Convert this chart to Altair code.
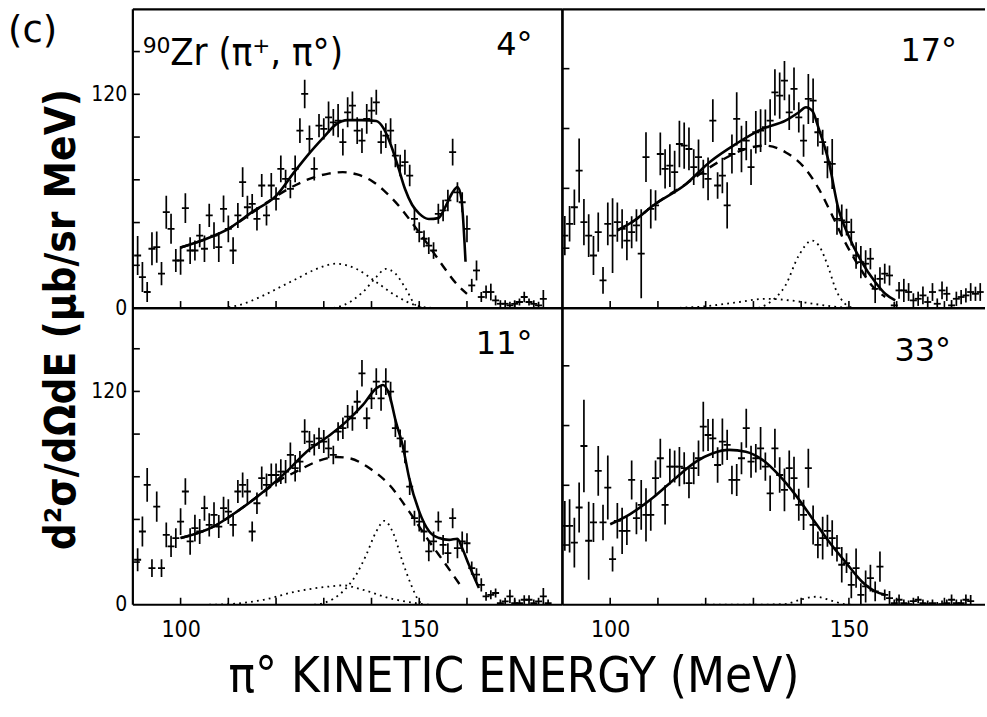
import altair as alt
import pandas as pd

LAB = "DejaVu Sans"
CON = "DejaVu Sans Condensed"

# ---------------- data ----------------
# 4 degrees (top-left), points at 1 MeV steps starting at 91 MeV
e4_start = 91.0
v4 = [29.5, 17.4, 9.0, 33.3, 34.2, 19.3, 53.8, 44.5, 26.7, 26.7,
      56.1, 32.3, 32.3, 40.7, 33.3, 52.0, 40.7, 34.2, 55.7, 44.5,
      32.3, 52.0, 70.7, 56.6, 58.5, 50.1, 68.8, 52.0, 68.8, 61.3,
      78.1, 72.5, 66.9, 78.1, 99.6, 120.2, 95.0, 78.1, 102.4, 100.6,
      107.1, 104.3, 105.2, 93.1, 109.9, 113.6, 99.6, 94.0, 106.2, 110.8,
      115.5, 93.1, 96.8, 99.6, 85.6, 80.0, 81.9, 74.4, 50.1, 42.6,
      38.9, 35.1, 32.3, 52.9, 54.8, 60.4, 87.5, 65.0, 59.4, 44.5,
      12.7, 21.1, 6.2, 9.0, 9.0, 4.3, 2.4, 2.4, 1.5, 2.4,
      3.4, 6.2, 3.4, 2.4, 1.5, 5.2]
err4 = [11, 8.4, 5.6, 9.3, 8.8, 6.5, 9.3, 8.4, 6.5, 8,
        8.4, 7.5, 5.6, 6.5, 7.5, 6.5, 7.5, 8.4, 7.5, 7.5,
        7.5, 7, 8.4, 6.5, 5.6, 6.5, 6.5, 5.6, 7, 6.5,
        7.5, 5.2, 5.2, 7.5, 7, 8, 7.5, 6.5, 6.5, 6,
        8.8, 7.5, 9.3, 7.5, 8.4, 8, 7.5, 7, 8.4, 7.5,
        7, 6.5, 7, 7, 6.5, 6, 7, 6, 6.5, 5.6,
        4.7, 4.7, 4.7, 5.6, 6, 6, 7.5, 5.6, 5.6, 7.5,
        3.7, 5.6, 2.8, 3.7, 4.7, 2.8, 2, 2, 2, 2,
        2, 3, 2, 2, 2, 5]

# 17 degrees (top-right)
e17_start = 90.5
v17 = [40.7, 47.3, 56.6, 77.2, 48.2, 40.7, 29.5, 42.6, 15.5, 47.3,
       40.7, 48.2, 44.5, 37.9, 42.6, 46.4, 30.5, 84.7, 55.7, 57.6,
       86.5, 78.1, 80.0, 76.3, 92.1, 91.2, 89.3, 79.1, 84.7, 75.3,
       72.5, 105.2, 68.8, 74.4, 57.6, 86.5, 106.2, 89.3, 94.0, 79.1,
       98.7, 99.6, 101.5, 105.2, 121.1, 119.3, 127.7, 109.9, 123.0, 107.1,
       94.0, 117.4, 116.4, 98.7, 93.1, 81.9, 80.9, 50.1, 49.2, 48.2,
       42.6, 29.5, 25.8, 24.9, 27.7, 10.8, 16.4, 19.3, 18.3, 1.5,
       9.9, 9.9, 9.0, 4.3, 5.2, 7.1, 3.4, 9.0, 2.4, 9.9,
       8.0, 1.5, 5.2, 6.2, 7.1, 9.0, 8.0, 9.0]
err17 = [11, 10, 10, 18, 13, 12, 11, 11, 7.5, 12,
         21, 11, 11, 11, 9, 9, 25, 14, 11, 8.5,
         12, 11, 12, 12, 13, 13, 12, 10, 10, 8,
         12, 12, 7.5, 10, 13, 11, 15, 13, 11, 10,
         12, 12, 10, 12, 13, 13, 11, 10, 12, 8.5,
         9, 14, 12.5, 8, 7, 9, 14, 9, 9, 7.5,
         7.5, 7.5, 9, 7.5, 6, 8, 6.5, 5.6, 5.6, 2,
         4.7, 6.5, 5, 4, 4, 5, 3, 5, 3, 5,
         4, 3, 4, 4, 4, 5, 4, 5]

# 11 degrees (bottom-left)
e11_start = 91.0
v11 = [25.3, 41.2, 67.4, 20.6, 55.2, 20.6, 39.3, 32.8, 37.5, 46.8,
       63.7, 35.6, 43.1, 41.2, 54.3, 44.9, 50.6, 44.0, 54.3, 52.4,
       44.9, 63.7, 67.4, 63.7, 41.2, 57.1, 71.2, 67.4, 73.0, 73.0,
       74.9, 74.9, 84.3, 76.8, 80.5, 97.4, 91.8, 89.9, 93.6, 91.8,
       88.0, 84.3, 97.4, 99.3, 105.8, 104.9, 114.2, 130.2, 104.9, 116.1,
       125.5, 116.1, 125.5, 119.9, 99.3, 93.6, 86.1, 66.5, 48.7, 46.8,
       41.2, 30.0, 35.6, 46.8, 33.7, 29.0, 48.7, 31.8, 35.6, 34.6,
       20.6, 16.9, 11.2, 4.7, 5.6, 6.6, 0.9, 1.9, 4.7, 0.9,
       0.9, 2.8, 2.8, 0.9, 1.9, 4.7, 0.9]
err11 = [6.5, 8.5, 9.5, 5, 8.5, 5, 7, 6, 5.6, 7.5,
         7.5, 7.5, 7.5, 7, 7, 6.5, 7, 6.5, 6.5, 7,
         6.5, 6.5, 7, 7, 5.6, 6, 6.5, 6.5, 6.5, 6.5,
         7, 6.5, 7, 7.5, 6, 7, 6, 6, 6, 6.5,
         5.6, 5.2, 5.2, 6, 6.5, 7, 6.5, 7.5, 6, 6,
         7.5, 7, 7.5, 5.6, 5, 5, 6.5, 4.7, 4.2, 5.6,
         5.6, 5.6, 5.6, 5.6, 5.6, 5.6, 5.6, 5.6, 5.6, 5.6,
         3.7, 3.7, 3.7, 2.5, 2.5, 2.5, 2, 2, 3.7, 2,
         2, 2.5, 2.5, 2, 2, 4.7, 2]

# 33 degrees (bottom-right)
e33_start = 90.5
v33 = [44.4, 44.4, 35.0, 54.7, 89.3, 36.0, 46.3, 75.3, 46.3, 65.9,
       25.7, 47.2, 41.6, 41.6, 70.2, 48.7, 56.2, 50.6, 50.6, 71.2,
       82.4, 56.2, 77.7, 77.7, 77.7, 76.8, 68.4, 76.8, 82.4, 100.2,
       95.5, 93.6, 78.6, 91.8, 89.9, 70.2, 70.2, 82.4, 99.3, 80.5,
       82.4, 88.0, 77.7, 62.7, 88.0, 73.0, 64.6, 76.8, 71.2, 56.2,
       50.6, 76.8, 44.9, 33.7, 37.5, 41.6, 37.5, 31.8, 22.5, 23.4,
       11.2, 20.6, 5.6, 10.3, 15.0, 7.5, 21.5, 5.6, 3.7, 0.9,
       2.8, 0.9, 0.4, 2.0, 2.8, 0.9, 0.4, 0.9, 0.0, 0.4,
       0.9, 2.8, 0.9, 0.9, 2.8, 2.0]
err33 = [14, 15, 14, 14, 26, 22, 11, 14, 10, 18,
         7, 10, 13, 8, 11, 9, 14, 15, 9, 10,
         11, 11, 10, 9, 11, 9, 8.5, 9, 10, 14,
         9, 11, 10, 13, 8.5, 8, 9, 9, 11, 9,
         8, 12, 8, 10, 11, 10, 12, 10, 12, 9,
         8.5, 11, 11, 7.5, 12, 9, 10, 7.5, 10, 5.6,
         7.5, 11, 6.5, 9, 7.5, 5.6, 8.5, 3, 4, 2,
         3, 2, 2, 2, 2, 2, 2, 2, 1.5, 2,
         2, 3, 2, 2, 3, 3.5]

# fitted curves
s4_E = [100, 105, 110, 115, 120, 124, 127, 130, 132.5, 135, 138, 141, 142.5, 144, 145.5,
        147, 148.5, 150, 152, 154, 155.5, 157, 158, 158.8, 159.7]
s4_v = [34, 38.5, 44.5, 54, 63, 77, 87, 96, 103, 105.5, 105.5, 105, 101, 92, 80,
        67, 58, 53, 50, 50.5, 57, 65, 68, 62, 26]
d4_E = [100, 105, 110, 115, 119, 123, 127, 131, 134, 137, 140, 143, 146, 149, 152, 155, 158, 160]
d4_v = [34, 38.5, 44.5, 53.5, 61, 67.5, 72.5, 75.5, 76.3, 75, 71.5, 65, 56.5, 46, 35, 23.5, 13, 8]
p4a_E = [100, 108, 112, 117.4, 121, 124.3, 128.5, 132.6, 136.8, 141, 145, 149.3, 153]
p4a_v = [0, 0, 1.5, 7.1, 12, 16.4, 22, 24.9, 22, 14.6, 7.1, 1.5, 0]
p4b_E = [132, 134, 138.2, 141, 143, 145, 147.2, 149.3, 151]
p4b_v = [0, 1.5, 9, 17.4, 22, 19.3, 10.8, 1.5, 0]

s17_E = [101.5, 105, 109, 115.9, 120.8, 126.3, 131.9, 136.7, 139.5, 141, 142.3, 143.7,
         145.8, 147.8, 149.9, 152.7, 155.5, 157.6, 159.7]
s17_v = [43.6, 49, 57.6, 69.7, 81.9, 92.1, 100.6, 105.2, 109.9, 112.7, 110.8, 100.6,
         81.9, 55.7, 40.7, 25.8, 14.6, 8.0, 4.3]
d17_E = [101.5, 105, 109, 115.9, 120, 124, 128, 132.5, 136.7, 140.9, 143.7, 146.5, 149.2, 152, 154.8, 157.6]
d17_v = [43.6, 49, 57.6, 69.7, 77.5, 84, 89, 91.2, 87.5, 78.1, 66.9, 52, 37, 23.9, 12.7, 6.2]
p17a_E = [112, 116, 120, 126, 132.6, 138, 143, 149, 152]
p17a_v = [0, 0.3, 1, 3, 5.2, 4.2, 2.2, 0.3, 0]
p17b_E = [131, 134, 136.7, 139.5, 142.3, 143.7, 145.8, 147.2, 149.2, 151]
p17b_v = [0, 4.3, 12.7, 29.5, 37.9, 35.1, 22, 10.8, 2.4, 0]

s11_E = [100, 106.9, 111.8, 117.4, 122.2, 126.4, 131.3, 134.7, 138.2, 141, 142.4, 143.75,
         145.1, 146.5, 147.9, 150, 152.1, 154.2, 156.25, 158, 159, 160.4, 162.5]
s11_v = [37.5, 44, 52.4, 63.7, 74.9, 86.1, 95.5, 103, 112.4, 121.7, 123.6, 118,
         103, 89.9, 71.2, 52.4, 41.2, 37.5, 36.5, 37.1, 31.8, 22.5, 9.4]
d11_E = [100, 106.9, 111.8, 117.4, 121, 124.3, 128.5, 132.6, 135.4, 139.6, 143.75, 147.9, 152.1, 155.6, 159]
d11_v = [37.5, 44, 52.4, 63.5, 70.5, 75, 80.5, 83.1, 82.4, 76.8, 67.4, 52.4, 35.6, 22.5, 9.4]
p11a_E = [106, 110.4, 117.4, 124.3, 131.3, 134, 138.2, 143.75, 149.3, 152]
p11a_v = [0, 0.4, 2.8, 7.5, 10.3, 10.9, 8.4, 3.7, 0.9, 0]
p11b_E = [128, 129.9, 134, 136.8, 138.9, 141, 142.7, 144.4, 146.5, 148.3, 150, 151]
p11b_v = [0, 0.9, 7.5, 16.9, 28.1, 41.2, 47.2, 41.2, 24.3, 11.2, 1.9, 0]

s33_E = [100, 104.1, 109, 113.8, 118, 121.5, 124.9, 128.4, 131.9, 135.3, 138.8, 142.3,
         145.8, 149.2, 152.7, 155.5, 157.6]
s33_v = [45.3, 50.9, 60.3, 71.5, 80.5, 85.2, 87.1, 86.1, 81.5, 73, 61.8, 48.7,
         35.6, 24.3, 13.1, 7.5, 5.6]
p33_E = [119, 130, 136.7, 139.5, 143, 146.5, 149.2, 151]
p33_v = [0, 0, 0.4, 2.6, 4.5, 2.2, 0.3, 0]

x_tick_values = [100, 110, 120, 130, 140, 150, 160, 170]
y_ticks_left = [24, 48, 72, 96, 120, 144]
y_ticks_right = [33.6, 67.2, 100.8, 134.4]
y_labels = [0, 120]
x_labels = [100, 150]

# ---------------- helpers ----------------
W_L, W_R = 430, 423
H_T, H_B = 299, 297


def pts_df(start, vals, errs):
    return pd.DataFrame({
        "E": [start + i for i in range(len(vals))],
        "v": vals,
        "lo": [v - e for v, e in zip(vals, errs)],
        "hi": [v + e for v, e in zip(vals, errs)],
    })


def line_df(E, v):
    return pd.DataFrame({"E": E, "v": v})


one = pd.DataFrame({"k": [0]})


def panel(pts, solids, dasheds, dots, w, h, xdom, ydom, yt, texts,
          xaxis=None, yaxis=None, right_frame=True):
    xs = alt.Scale(domain=xdom, nice=False, zero=False)
    ys = alt.Scale(domain=ydom, nice=False, zero=False)

    def X(f):
        return alt.X(f, type="quantitative", scale=xs, axis=xaxis)

    def Y(f):
        return alt.Y(f, type="quantitative", scale=ys, axis=yaxis)

    layers = []
    layers.append(alt.Chart(pts).mark_rule(color="black", strokeWidth=1.7, clip=True)
                  .encode(x=X("E"), y=Y("lo"), y2="hi"))
    layers.append(alt.Chart(pts).mark_tick(color="black", orient="horizontal", size=7,
                                           thickness=1.8, opacity=1, clip=True)
                  .encode(x=X("E"), y=Y("v")))
    for d in dots:
        layers.append(alt.Chart(d).mark_line(color="black", strokeWidth=1.8,
                                             strokeDash=[1.8, 4.2], interpolate="monotone", clip=True)
                      .encode(x=X("E"), y=Y("v")))
    for d in dasheds:
        layers.append(alt.Chart(d).mark_line(color="black", strokeWidth=2.4,
                                             strokeDash=[9, 7], interpolate="monotone", clip=True)
                      .encode(x=X("E"), y=Y("v")))
    for d in solids:
        layers.append(alt.Chart(d).mark_line(color="black", strokeWidth=2.6,
                                             interpolate="monotone", clip=True)
                      .encode(x=X("E"), y=Y("v")))
    # inward ticks
    layers.append(alt.Chart(pd.DataFrame({"t": yt})).mark_rule(color="black", strokeWidth=1.6)
                  .encode(y=Y("t"), x=alt.value(0), x2=alt.value(7)))
    layers.append(alt.Chart(pd.DataFrame({"t": x_tick_values})).mark_rule(color="black", strokeWidth=1.6)
                  .encode(x=X("t"), y=alt.value(h), y2=alt.value(h - 7)))
    # frame
    fr = alt.Chart(one).mark_rule(color="black", strokeWidth=2.2)
    layers += [fr.encode(x=alt.value(0), y=alt.value(0), y2=alt.value(h)),
               fr.encode(x=alt.value(0), x2=alt.value(w), y=alt.value(0)),
               fr.encode(x=alt.value(0), x2=alt.value(w), y=alt.value(h))]
    if right_frame:
        layers.append(fr.encode(x=alt.value(w), y=alt.value(0), y2=alt.value(h)))
    for (s, tx, ty, size, align, font) in texts:
        layers.append(alt.Chart(pd.DataFrame({"s": [s]}))
                      .mark_text(font=font, fontSize=size, align=align, baseline="alphabetic", color="black")
                      .encode(text="s:N", x=alt.value(tx), y=alt.value(ty)))
    return alt.layer(*layers).properties(width=w, height=h)


def yax(title=None):
    kw = dict(values=y_labels, domain=False, ticks=False, grid=False,
              labelFont=CON, labelFontSize=21, labelColor="black", labelPadding=6)
    if title:
        kw.update(title=title, titleFont=CON, titleFontSize=42, titleFontWeight="bold",
                  titleColor="black", titleX=-71, titleY=310, titleAngle=270,
                  titleAlign="center", titleBaseline="middle")
    else:
        kw.update(title=None)
    return alt.Axis(**kw)


def xax(title=None):
    kw = dict(values=x_labels, domain=False, ticks=False, grid=False, labelFlush=False,
              labelFont=CON, labelFontSize=23, labelColor="black", labelPadding=14)
    if title:
        kw.update(title=title, titleFont=CON, titleFontSize=49, titleFontWeight="normal",
                  titleColor="black", titleX=381, titleY=72, titleAlign="center",
                  titleBaseline="middle")
    else:
        kw.update(title=None)
    return alt.Axis(**kw)


XL = [90, 180]
XR = [90, 178.5]

tl = panel(pts_df(e4_start, v4, err4), [line_df(s4_E, s4_v)], [line_df(d4_E, d4_v)],
           [line_df(p4a_E, p4a_v), line_df(p4b_E, p4b_v)],
           W_L, H_T, XL, [0, 167.7], y_ticks_left,
           [("(c)", -125, 33, 37, "left", LAB),
            ("⁹⁰Zr (π⁺, π°)", 10, 56, 38, "left", CON),
            ("4°", 400, 46, 32, "right", LAB)],
           yaxis=yax("d²σ/dΩdE (μb/sr MeV)"))
tr = panel(pts_df(e17_start, v17, err17), [line_df(s17_E, s17_v)], [line_df(d17_E, d17_v)],
           [line_df(p17a_E, p17a_v), line_df(p17b_E, p17b_v)],
           W_R, H_T, XR, [0, 167.7], y_ticks_right,
           [("17°", 395, 52, 32, "right", LAB)], right_frame=False)
bl = panel(pts_df(e11_start, v11, err11), [line_df(s11_E, s11_v)], [line_df(d11_E, d11_v)],
           [line_df(p11a_E, p11a_v), line_df(p11b_E, p11b_v)],
           W_L, H_B, XL, [0, 166.9], y_ticks_left,
           [("11°", 400, 46, 32, "right", LAB)],
           yaxis=yax(), xaxis=xax("π° KINETIC ENERGY (MeV)"))
br = panel(pts_df(e33_start, v33, err33), [line_df(s33_E, s33_v)], [],
           [line_df(p33_E, p33_v)],
           W_R, H_B, XR, [0, 166.9], y_ticks_right,
           [("33°", 389, 53, 32, "right", LAB)],
           xaxis=xax(), right_frame=False)

chart = alt.concat(tl, tr, bl, br, columns=2, spacing=0, bounds="flush").properties(
    padding={"left": 8, "top": 7, "right": 0, "bottom": 12},
    background="white",
).configure_view(stroke=None)

chart.save("out.html", embed_options={"renderer": "svg", "actions": False})
